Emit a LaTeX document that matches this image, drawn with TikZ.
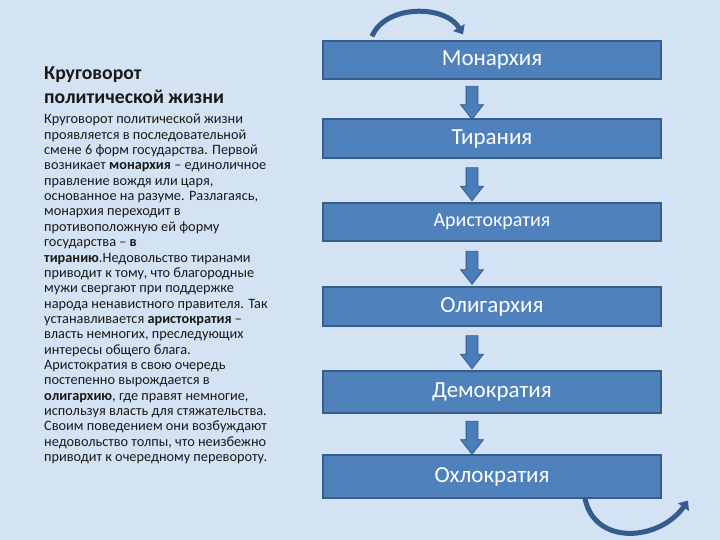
\documentclass[tikz,border=0pt]{standalone}
\usepackage{fontspec}
\setmainfont{Carlito}
\usetikzlibrary{shapes.arrows,arrows.meta,calc}
\definecolor{bgblue}{RGB}{212,227,244}
\definecolor{boxblue}{RGB}{79,129,189}
\definecolor{boxborder}{RGB}{56,93,138}
\definecolor{arrowblue}{RGB}{74,126,187}
\definecolor{arrowborder}{RGB}{52,90,140}
\definecolor{curveblue}{RGB}{52,92,142}
\definecolor{txt}{RGB}{25,25,25}
\tikzset{
  govbox/.style={draw=boxborder, line width=1.2pt, fill=boxblue, text=white,
    minimum width=338pt, inner sep=0pt, font=\fontsize{23}{26}\selectfont},
  downarrow/.style={single arrow, shape border rotate=270, draw=arrowborder,
    line width=0.8pt, fill=arrowblue, inner sep=5.5pt, minimum height=33pt,
    single arrow head extend=5.5pt, single arrow tip angle=76},
  curvearrow/.style={draw=curveblue, line width=5pt,
    -{Triangle[width=13pt,length=8pt]}}
}
\begin{document}
\begin{tikzpicture}[x=1pt,y=-1pt]
\fill[bgblue] (0,0) rectangle (720,540);
\useasboundingbox (0,0) rectangle (720,540);

% left text
\node[anchor=north west, inner sep=0pt, align=left, text=txt,
  font=\fontsize{19.7}{24}\selectfont\bfseries] (title) at (44,67)
  {Круговорот\\политической жизни};
\node[anchor=north west, inner sep=0pt, align=left, text=txt,
  font=\fontsize{14.3}{15.35}\selectfont] (body) at (44,114)
  {Круговорот политической жизни\\
проявляется в последовательной\\
смене 6 форм государства. Первой\\
возникает \textbf{монархия} – единоличное\\
правление вождя или царя,\\
основанное на разуме. Разлагаясь,\\
монархия переходит в\\
противоположную ей форму\\
государства – \textbf{в}\\
\textbf{тиранию}.Недовольство тиранами\\
приводит к тому, что благородные\\
мужи свергают при поддержке\\
народа ненавистного правителя. Так\\
устанавливается \textbf{аристократия} –\\
власть немногих, преследующих\\
интересы общего блага.\\
Аристократия в свою очередь\\
постепенно вырождается в\\
\textbf{олигархию}, где правят немногие,\\
используя власть для стяжательства.\\
Своим поведением они возбуждают\\
недовольство толпы, что неизбежно\\
приводит к очередному перевороту.};

% boxes
\node[govbox, minimum height=38pt] (b1) at (492,60) {Монархия};
\node[govbox, minimum height=39pt] (b2) at (492,138.5) {Тирания};
\node[govbox, minimum height=38pt, font=\fontsize{20}{24}\selectfont] (b3) at (492,222) {Аристократия};
\node[govbox, minimum height=39pt] (b4) at (492,306.5) {Олигархия};
\node[govbox, minimum height=42pt] (b5) at (492,392) {Демократия};
\node[govbox, minimum height=43pt] (b6) at (492,476.5) {Охлократия};

% down arrows
\foreach \a/\b in {b1/b2,b2/b3,b3/b4,b4/b5,b5/b6}{
  \path ([xshift=-20pt]\a.south) -- ([xshift=-20pt]\b.north)
    node[midway, downarrow] {};
}

% curved arrows
\coordinate (t1) at ([xshift=-120pt,yshift=4pt]b1.north);
\coordinate (t2) at ([xshift=-29pt,yshift=6pt]b1.north);
\draw[curvearrow] (t1) .. controls ++(13,-32) and ++(-18,-30) .. (t2);
\coordinate (u1) at ([xshift=93pt,yshift=0pt]b6.south);
\coordinate (u2) at ([xshift=196pt,yshift=-2pt]b6.south);
\draw[curvearrow] (u1) .. controls ++(10,48) and ++(-28,40) .. (u2);
\end{tikzpicture}
\end{document}
